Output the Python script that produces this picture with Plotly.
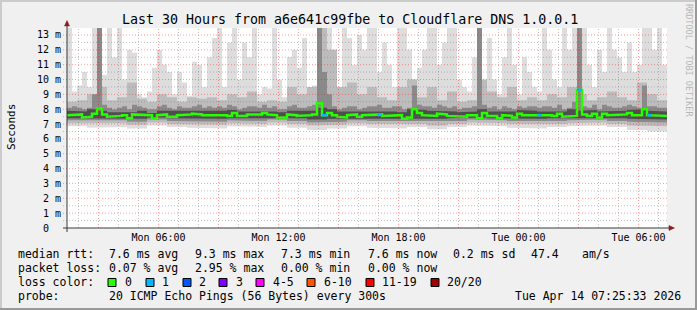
import plotly.graph_objects as go
import pandas as pd

# ---------------- data ----------------
START = "2026-04-13 01:25:33"
HOURS = 30

# median RTT (ms), one value per 15 minutes (120 bins)
median_ms = [
    7.6, 7.65, 7.65, 7.45, 7.5, 7.7, 8.05, 7.65, 7.5, 7.5,
    7.55, 7.6, 7.4, 7.65, 7.65, 7.65, 7.6, 7.35, 7.6, 7.65,
    7.5, 7.5, 7.6, 7.6, 7.65, 7.7, 7.65, 7.6, 7.65, 7.6,
    7.6, 7.6, 7.55, 7.75, 7.55, 7.55, 7.65, 7.6, 7.65, 7.75,
    7.65, 7.6, 7.45, 7.45, 7.65, 7.6, 7.55, 7.55, 7.6, 7.65,
    8.4, 7.6, 7.75, 7.6, 7.5, 7.45, 7.6, 7.65, 7.5, 7.6,
    7.6, 7.6, 7.65, 7.55, 7.55, 7.6, 7.6, 7.35, 7.45, 8.0,
    7.75, 7.6, 7.6, 7.55, 7.7, 7.65, 7.55, 7.55, 7.5, 7.5,
    7.6, 7.6, 7.4, 7.75, 7.55, 7.55, 7.4, 7.6, 7.55, 7.45,
    7.7, 7.6, 7.65, 7.65, 7.6, 7.6, 7.6, 7.55, 7.7, 7.5,
    7.5, 7.55, 9.3, 7.65, 7.55, 7.7, 7.45, 7.7, 7.6, 7.6,
    7.6, 7.65, 7.75, 7.6, 7.6, 8.0, 7.6, 7.6, 7.6, 7.55,
]
# lost pings per bin (of 20)
loss_count = [0] * 120
for _i in (51, 62, 94, 102, 116):
    loss_count[_i] = 1

# smoke: highest ping per 15 minutes (values above the top are clipped)
smoke_max = [
    14, 9.2, 9.6, 10.5, 9.5, 14, 14, 10.3, 14, 11.5,
    14, 10.0, 12.0, 11.8, 9.0, 8.8, 9.2, 10.8, 12.0, 11.0,
    10.5, 9.0, 10.5, 9.8, 8.9, 11.2, 11.0, 9.5, 11.5, 12.8,
    14, 9.5, 12.5, 14, 10.0, 12.5, 11.5, 14, 9.0, 9.5,
    9.4, 14, 10.0, 8.8, 11.5, 12.0, 10.8, 12.8, 9.0, 9.6,
    14, 14, 14, 10.0, 9.0, 14, 12.8, 11.0, 13.0, 12.0,
    14, 14, 10.5, 12.5, 11.0, 9.5, 14, 14, 12.0, 10.0,
    10.8, 12.0, 14, 14, 11.0, 12.5, 14, 14, 10.0, 9.5,
    9.2, 11.5, 14, 9.5, 12.8, 10.0, 9.0, 11.5, 14, 11.0,
    9.0, 11.5, 10.5, 9.5, 9.2, 14, 12.0, 10.0, 9.5, 14,
    12.0, 14, 14, 14, 11.0, 9.5, 12.0, 10.5, 14, 12.0,
    11.5, 10.5, 12.5, 10.5, 11.0, 14, 14, 12.0, 14, 11.0,
]
# upper edge of the darker core smoke (15-minute bins)
core_hi = [
    8.1, 8.2, 8.1, 8.0, 8.1, 9.0, 14, 8.3, 8.1, 8.0,
    8.1, 8.2, 8.0, 8.3, 8.2, 8.1, 8.0, 8.0, 8.2, 8.3,
    8.1, 8.0, 8.2, 8.1, 8.1, 8.2, 8.3, 8.1, 8.2, 8.1,
    8.2, 8.1, 8.3, 8.2, 8.0, 8.1, 8.2, 8.2, 8.1, 8.3,
    8.1, 8.2, 8.0, 8.0, 8.2, 8.3, 8.1, 8.1, 8.2, 8.3,
    14, 10.5, 9.0, 8.2, 8.0, 8.1, 8.2, 8.2, 8.0, 8.1,
    8.2, 8.2, 8.3, 8.1, 8.1, 8.2, 8.2, 8.0, 8.1, 9.6,
    8.3, 8.2, 8.2, 8.1, 8.3, 8.2, 8.1, 8.2, 8.0, 8.1,
    8.1, 8.2, 14, 8.3, 8.1, 8.2, 8.0, 8.2, 8.1, 8.0,
    8.2, 8.1, 8.2, 8.2, 8.1, 8.2, 8.2, 8.1, 8.3, 8.0,
    8.1, 8.5, 14, 8.2, 8.1, 8.3, 8.0, 8.3, 8.2, 8.1,
    8.1, 8.2, 8.3, 8.2, 8.1, 9.6, 8.2, 8.2, 8.1, 8.1,
]
# upper edge of the medium smoke (30-minute bins)
smoke_p80 = [
    8.5, 8.6, 9.0, 9.5, 8.6, 8.8, 9.8, 8.7, 8.5, 9.0, 8.8, 8.5, 8.8, 8.7, 8.8,
    8.6, 9.0, 8.8, 9.2, 8.5, 8.6, 8.5, 9.5, 9.0, 9.5, 14, 12.0, 9.5, 9.8, 9.0,
    9.5, 8.8, 8.6, 9.5, 10.0, 8.8, 9.5, 8.6, 9.2, 8.5, 8.6, 10.0, 9.2, 8.8, 9.5,
    8.6, 8.8, 8.6, 9.0, 8.8, 9.5, 9.0, 8.6, 8.8, 9.2, 8.8, 8.6, 9.8, 9.0, 8.6,
]
# upper edge of the darkest smoke (30-minute bins)
dark_hi = [
    7.9, 7.85, 8.0, 7.9, 7.8, 7.85, 7.8, 7.9, 7.75, 7.9, 7.85, 7.85, 7.9, 7.9, 7.9,
    7.9, 7.95, 7.85, 7.9, 7.9, 7.85, 7.8, 7.9, 7.85, 7.9, 8.1, 8.0, 7.85, 7.85, 7.85,
    7.9, 7.9, 7.85, 7.8, 8.0, 7.95, 7.9, 7.9, 7.85, 7.8, 7.85, 8.0, 7.85, 7.8, 7.85,
    7.95, 7.9, 7.85, 7.9, 7.85, 8.0, 7.9, 7.95, 7.85, 7.9, 7.9, 7.95, 8.0, 7.9, 7.85,
]
# lower edges (hourly bins)
smoke_min = [6.85, 6.75, 6.8, 6.7, 6.9, 6.8, 6.75, 6.7, 6.85, 6.8, 6.9, 6.75, 6.6, 6.7, 6.85,
             6.75, 6.7, 6.8, 6.65, 6.8, 6.9, 6.85, 6.75, 6.7, 6.8, 6.85, 6.9, 6.8, 6.6, 6.5]
smoke_lo2 = [7.05, 7.0, 7.05, 6.95, 7.1, 7.0, 7.0, 6.95, 7.05, 7.0, 7.1, 7.0, 6.9, 6.95, 7.05,
             7.0, 6.95, 7.0, 6.9, 7.0, 7.1, 7.05, 7.0, 6.95, 7.0, 7.05, 7.1, 7.0, 6.9, 6.85]
core_lo = [7.25, 7.2, 7.25, 7.15, 7.3, 7.2, 7.2, 7.15, 7.25, 7.2, 7.3, 7.2, 7.1, 7.15, 7.25,
           7.2, 7.15, 7.2, 7.15, 7.2, 7.3, 7.25, 7.2, 7.15, 7.2, 7.25, 7.3, 7.2, 7.15, 7.1]
dark_lo = [7.4, 7.4, 7.4, 7.35, 7.45, 7.4, 7.4, 7.35, 7.4, 7.4, 7.45, 7.4, 7.3, 7.35, 7.4,
           7.4, 7.35, 7.4, 7.35, 7.4, 7.45, 7.4, 7.4, 7.35, 7.4, 7.4, 7.45, 7.4, 7.35, 7.3]

# axis ticks
y_tick_vals = list(range(0, 14))
y_tick_text = ["0\u00a0\u00a0"] + [f"{v} m" for v in range(1, 14)]
x_tick_vals = ["2026-04-13 06:00", "2026-04-13 12:00", "2026-04-13 18:00",
               "2026-04-14 00:00", "2026-04-14 06:00"]
x_tick_text = ["Mon 06:00", "Mon 12:00", "Mon 18:00", "Tue 00:00", "Tue 06:00"]

# legend texts
title_text = "Last 30 Hours from a6e641c99fbe to Cloudflare DNS 1.0.0.1"
rtt_stats = ["7.6 ms avg", "9.3 ms max", "7.3 ms min", "7.6 ms now", "0.2 ms sd", "47.4", "am/s"]
loss_stats = ["0.07 % avg", "2.95 % max", "0.00 % min", "0.00 % now"]
loss_labels = ["0", "1", "2", "3", "4-5", "6-10", "11-19", "20/20"]
loss_colors = ["#26ff00", "#00b8ff", "#0059ff", "#7e00ff", "#ff00ff", "#ff5500", "#ff0000", "#a10000"]
probe_text = "20 ICMP Echo Pings (56 Bytes) every 300s"
stamp_text = "Tue Apr 14 07:25:33 2026"

# ---------------- figure ----------------
W, H = 697, 310
PL, PR, PT, PB = 67, 667, 28, 228   # plot area in pixels
YMAX = 13.47
MONO = "DejaVu Sans Mono"

t0 = pd.Timestamp(START)
t1 = t0 + pd.Timedelta(hours=HOURS)


def edges(n):
    step = pd.Timedelta(hours=HOURS) / n
    return [(t0 + step * i) for i in range(n + 1)]


def step_xy(vals):
    e = edges(len(vals))
    xs, ys = [], []
    for i, v in enumerate(vals):
        xs += [e[i], e[i + 1]]
        ys += [v, v]
    return xs, ys


def band(upper, lower, color):
    xu, yu = step_xy(upper)
    xl, yl = step_xy(lower)
    return go.Scatter(x=xu + xl[::-1], y=yu + yl[::-1], fill="toself", fillcolor=color,
                      mode="lines", line=dict(width=0), hoverinfo="skip")


fig = go.Figure()
fig.add_trace(band(smoke_max, smoke_min, "#DDDDDD"))
fig.add_trace(band(smoke_p80, smoke_lo2, "#BCBCBC"))
fig.add_trace(band(core_hi, core_lo, "#8A8A8A"))
fig.add_trace(band(dark_hi, dark_lo, "#4E4E4E"))

mx, my = step_xy(median_ms)
fig.add_trace(go.Scatter(x=mx, y=my, mode="lines", line=dict(color=loss_colors[0], width=2.5),
                         hoverinfo="skip"))
# loss-coloured median segments
e15 = edges(len(median_ms))
buckets = [0, 1, 2, 3, 5, 10, 19, 20]
for bi, col in enumerate(loss_colors):
    if bi == 0:
        continue
    lo_b = buckets[bi - 1] + 1
    hi_b = buckets[bi]
    sx, sy = [], []
    for i, (v, l) in enumerate(zip(median_ms, loss_count)):
        if lo_b <= l <= hi_b:
            sx += [e15[i], e15[i + 1], None]
            sy += [v, v, None]
    if sx:
        fig.add_trace(go.Scatter(x=sx, y=sy, mode="lines", line=dict(color=col, width=2.5),
                                 hoverinfo="skip"))


def px(x):
    return (x - PL) / (PR - PL)


def py(y):
    return (PB - y) / (PB - PT)


shapes = []
DOT = "1px,2px"
minor_c = "rgba(120,120,120,0.45)"
major_c = "rgba(255,0,0,0.38)"
# horizontal grid
for k in range(1, 28):
    v = k * 0.5
    if v > YMAX:
        break
    major = (k % 2 == 0)
    shapes.append(dict(type="line", xref="paper", yref="y", x0=px(63), x1=1, y0=v, y1=v,
                       line=dict(color=major_c if major else minor_c, width=1, dash=DOT),
                       layer="above"))
# vertical grid (hourly, red every 3 hours)
h = t0.ceil("h")
while h < t1:
    major = (h.hour % 3 == 0)
    shapes.append(dict(type="line", xref="x", yref="paper", x0=h, x1=h, y0=0, y1=1,
                       line=dict(color=major_c if major else minor_c, width=1, dash=DOT),
                       layer="above"))
    h += pd.Timedelta(hours=1)

# axes with arrows
AX = "#3A3A3A"
ARW = "#8E1A1A"
shapes.append(dict(type="line", xref="paper", yref="paper", x0=px(63), x1=px(670), y0=0, y1=0,
                   line=dict(color=AX, width=1), layer="above"))
shapes.append(dict(type="line", xref="paper", yref="paper", x0=0, x1=0, y0=py(232), y1=py(24),
                   line=dict(color=AX, width=1), layer="above"))
shapes.append(dict(type="path", xref="paper", yref="paper",
                   path=f"M {px(64.5)} {py(26)} L {px(69.5)} {py(26)} L {px(67)} {py(20.5)} Z",
                   fillcolor=ARW, line=dict(color=ARW, width=0.5), layer="above"))
shapes.append(dict(type="path", xref="paper", yref="paper",
                   path=f"M {px(669)} {py(225.5)} L {px(669)} {py(230.5)} L {px(674.5)} {py(228)} Z",
                   fillcolor=ARW, line=dict(color=ARW, width=0.5), layer="above"))

# image frame
shapes.append(dict(type="rect", xref="paper", yref="paper", x0=px(0), x1=px(697), y0=py(0), y1=py(2),
                   fillcolor="#CBCBCB", line=dict(width=0)))
shapes.append(dict(type="rect", xref="paper", yref="paper", x0=px(0), x1=px(2), y0=py(0), y1=py(310),
                   fillcolor="#CBCBCB", line=dict(width=0)))
shapes.append(dict(type="rect", xref="paper", yref="paper", x0=px(695), x1=px(697), y0=py(0), y1=py(310),
                   fillcolor="#999999", line=dict(width=0)))
shapes.append(dict(type="rect", xref="paper", yref="paper", x0=px(0), x1=px(697), y0=py(308), y1=py(310),
                   fillcolor="#999999", line=dict(width=0)))

# legend colour boxes
box_x = [108, 146, 183, 219, 256, 307, 366, 431]
lab_x = [123, 160, 197, 234, 271, 322, 380, 445]
for bx, col in zip(box_x, loss_colors):
    shapes.append(dict(type="rect", xref="paper", yref="paper", x0=px(bx), x1=px(bx + 8),
                       y0=py(286.5), y1=py(278.5), fillcolor=col, line=dict(color="#000000", width=1)))

ann = []


def text(x, y, s, size=11.5, color="#000000", anchor="left", angle=0):
    ann.append(dict(xref="paper", yref="paper", x=px(x), y=py(y), text=s, showarrow=False,
                    xanchor=anchor, yanchor="middle", textangle=angle,
                    font=dict(family=MONO, size=size, color=color)))


text(120, 19.5, title_text, size=13.3)
text(11, 127, "Seconds", size=11, anchor="center", angle=-90)
text(689, 60, "RRDTOOL / TOBI OETIKER", size=8.5, color="#B8B8B8", anchor="center", angle=90)

L1, L2, L3, L4 = 254, 268, 282, 296
text(16, L1, "median rtt:")
for x, s in zip([107, 193, 279, 366, 451, 529, 580], rtt_stats):
    text(x, L1, s)
text(16, L2, "packet loss:")
for x, s in zip([107, 193, 279, 366], loss_stats):
    text(x, L2, s)
text(16, L3, "loss color:")
for x, s in zip(lab_x, loss_labels):
    text(x, L3, s)
text(16, L4, "probe:")
text(107, L4, probe_text)
text(513, L4, stamp_text)

fig.update_layout(
    width=W, height=H,
    margin=dict(l=PL, r=W - PR, t=PT, b=H - PB, pad=0),
    paper_bgcolor="#F0F0F0", plot_bgcolor="#FFFFFF",
    showlegend=False,
    shapes=shapes, annotations=ann,
    xaxis=dict(type="date", range=[t0, t1], showgrid=False, zeroline=False, showline=False,
               tickmode="array", tickvals=x_tick_vals, ticktext=x_tick_text, ticks="",
               tickfont=dict(family=MONO, size=10, color="#000000"), ticklabelstandoff=2),
    yaxis=dict(range=[0, YMAX], showgrid=False, zeroline=False, showline=False,
               tickmode="array", tickvals=y_tick_vals, ticktext=y_tick_text, ticks="",
               tickfont=dict(family=MONO, size=10, color="#000000"), ticklabelstandoff=5),
)

fig.write_html("out.html")
